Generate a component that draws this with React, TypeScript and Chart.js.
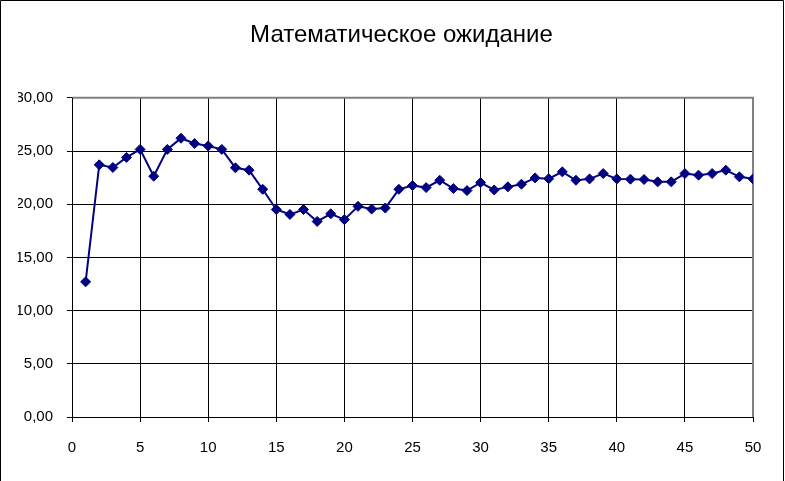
import React, { useEffect, useRef } from "react";
import { Chart, registerables } from "chart.js";

Chart.register(...registerables);

const titleText = "Математическое ожидание";
const xValues: number[] = Array.from({ length: 50 }, (_, i) => i + 1);
const meanValues: number[] = [
  12.7, 23.7, 23.45, 24.4, 25.15, 22.63, 25.15, 26.2, 25.7, 25.47,
  25.15, 23.42, 23.2, 21.4, 19.5, 19.04, 19.5, 18.38, 19.1, 18.55,
  19.8, 19.54, 19.64, 21.4, 21.75, 21.56, 22.25, 21.47, 21.28, 22.03,
  21.34, 21.63, 21.88, 22.47, 22.4, 23.04, 22.25, 22.38, 22.88, 22.38,
  22.35, 22.32, 22.1, 22.1, 22.88, 22.73, 22.88, 23.2, 22.57, 22.38,
];
const xMin = 0, xMax = 50, xStep = 5;
const yMin = 0, yMax = 30, yStep = 5;

const FONT = "'Liberation Sans', Arial, sans-serif";

const framePlugin = {
  id: "frame",
  beforeDatasetsDraw(chart: any) {
    const { ctx, chartArea } = chart;
    ctx.save();
    ctx.strokeStyle = "#808080";
    ctx.lineWidth = 2;
    ctx.beginPath();
    ctx.moveTo(chartArea.left, chartArea.top);
    ctx.lineTo(chartArea.right, chartArea.top);
    ctx.lineTo(chartArea.right, chartArea.bottom);
    ctx.stroke();
    ctx.strokeStyle = "#000000";
    ctx.lineWidth = 1;
    ctx.beginPath();
    ctx.moveTo(chartArea.left + 0.5, chartArea.top);
    ctx.lineTo(chartArea.left + 0.5, chartArea.bottom);
    ctx.moveTo(chartArea.left, chartArea.bottom + 0.5);
    ctx.lineTo(chartArea.right, chartArea.bottom + 0.5);
    ctx.stroke();
    ctx.restore();
  },
  afterDraw(chart: any) {
    const { ctx, width, height } = chart;
    ctx.save();
    ctx.strokeStyle = "#000000";
    ctx.lineWidth = 1;
    ctx.beginPath();
    ctx.moveTo(0.5, height);
    ctx.lineTo(0.5, 0.5);
    ctx.lineTo(width - 1.5, 0.5);
    ctx.lineTo(width - 1.5, height);
    ctx.stroke();
    ctx.restore();
  },
};

export default function App() {
  const ref = useRef<HTMLCanvasElement | null>(null);
  useEffect(() => {
    if (!ref.current) return;
    const chart = new Chart(ref.current, {
      type: "line",
      data: {
        datasets: [
          {
            label: titleText,
            data: xValues.map((x, i) => ({ x, y: meanValues[i] })),
            borderColor: "#000080",
            backgroundColor: "#000080",
            borderWidth: 2,
            pointStyle: "rectRot",
            pointRadius: 5,
            pointBorderWidth: 1,
            pointBackgroundColor: "#000080",
            pointBorderColor: "#000080",
            tension: 0,
            yAxisID: "y",
          },
        ],
      },
      options: {
        animation: false,
        responsive: false,
        layout: { padding: { left: 18, right: 0, top: 0, bottom: 0 } },
        plugins: {
          legend: { display: false },
          tooltip: { enabled: false },
          title: {
            display: true,
            text: titleText,
            color: "#000000",
            font: { family: FONT, size: 24, weight: "normal" },
            padding: { top: 21, bottom: 48 },
          },
        },
        scales: {
          x: {
            type: "linear",
            min: xMin,
            max: xMax,
            afterFit: (s: any) => { s.height = 64; },
            ticks: {
              stepSize: xStep,
              color: "#000000",
              padding: 17,
              font: { family: FONT, size: 15 },
              maxRotation: 0,
            },
            grid: { color: "#000000", lineWidth: 1, tickLength: 5 },
            border: { color: "#000000" },
          },
          y: {
            position: "left",
            min: yMin,
            max: yMax,
            afterFit: (s: any) => { s.width = 54; },
            ticks: {
              stepSize: yStep,
              color: "#000000",
              padding: 14,
              font: { family: FONT, size: 15 },
              callback: (v: any) => Number(v).toFixed(2).replace(".", ","),
            },
            grid: { color: "#000000", lineWidth: 1, tickLength: 5 },
            border: { color: "#000000" },
          },
          yRight: {
            position: "right",
            min: yMin,
            max: yMax,
            display: true,
            afterFit: (s: any) => { s.width = 32; },
            ticks: { display: false },
            grid: { display: false, drawTicks: false },
            border: { display: false },
          },
        },
      },
      plugins: [framePlugin],
    } as any);
    return () => chart.destroy();
  }, []);
  return (
    <div style={{ position: "fixed", left: 0, top: 0, width: 785, height: 481, background: "#ffffff" }}>
      <canvas ref={ref} width={785} height={481} style={{ width: 785, height: 481 }} />
    </div>
  );
}
